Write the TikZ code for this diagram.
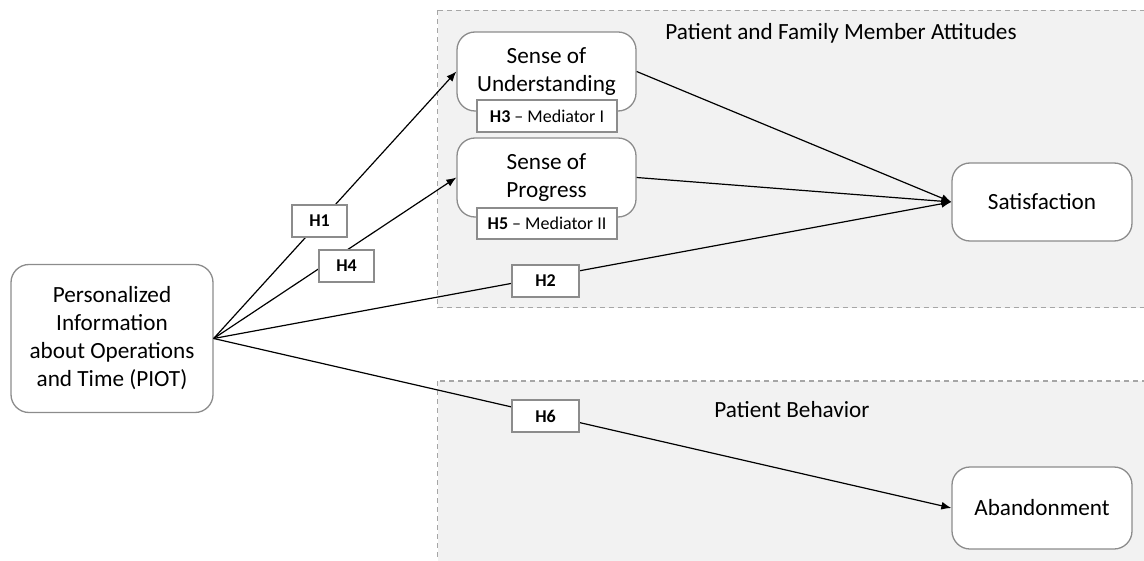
\documentclass[tikz,border=0pt]{standalone}
\usepackage{fontspec}
\setmainfont{Carlito}
\usetikzlibrary{positioning,arrows.meta}
\definecolor{boxgray}{HTML}{8C8C8C}
\definecolor{dashgray}{HTML}{A6A6A6}
\definecolor{areagray}{HTML}{F2F2F2}
\tikzset{
  construct/.style={draw=boxgray, line width=0.65pt, fill=white, rounded corners=9pt,
    align=center, inner sep=0pt, font=\fontsize{11.6}{14}\selectfont},
  hyp/.style={draw=boxgray, line width=0.6pt, fill=white, inner sep=0pt,
    font=\fontsize{9}{11}\selectfont},
  group/.style={draw=dashgray, fill=areagray, line width=0.65pt, dash pattern=on 2.5pt off 2pt},
  effect/.style={draw=black, line width=0.6pt, -{Latex[length=5pt,width=4pt]}},
  grouptitle/.style={font=\fontsize{11.6}{14}\selectfont}
}

\begin{document}
\begin{tikzpicture}[x=0.5pt, y=-0.5pt]
    \useasboundingbox (0,0) rectangle (1144,561);
    % the two areas
    \draw[group] (437.5,10.5) rectangle (1160,307.5);
    \draw[group] (437.5,381) rectangle (1160,580);
    \node[grouptitle] (attitudes) at (841,33) {Patient and Family Member Attitudes};
    \node[grouptitle] (behavior) at (792,410) {Patient Behavior};
    % constructs
    \node[construct, minimum width=101pt, minimum height=74pt] (piot) at (112,338.5)
      {Personalized\\Information\\about Operations\\and Time (PIOT)};
    \node[construct, minimum width=89.5pt, minimum height=39.5pt] (under) at (546.5,71.5)
      {Sense of\\Understanding};
    \node[construct, minimum width=89.5pt, minimum height=39.5pt] (progr) at (546.5,177.5)
      {Sense of\\Progress};
    \node[construct, minimum width=90pt, minimum height=39pt] (satis) at (1042,202)
      {Satisfaction};
    \node[construct, minimum width=90pt, minimum height=41pt] (aband) at (1042,508)
      {Abandonment};
    \coordinate (src) at (piot.east);
    % paths
    \draw[effect] (src) -- (under.west);
    \draw[effect] (src) -- (progr.west);
    \draw[effect] (src) -- (satis.west);
    \draw[effect] (src) -- (aband.west);
    \draw[effect] (under.east) -- (satis.west);
    \draw[effect] (progr.east) -- (satis.west);
    % hypotheses
    \node[hyp, minimum width=70pt, minimum height=16pt] (h3) at (547,116) {\textbf{H3} -- Mediator I};
    \node[hyp, minimum width=70pt, minimum height=15.5pt] (h5) at (547,223.5) {\textbf{H5} -- Mediator II};
    \node[hyp, minimum width=27.5pt, minimum height=16pt] (h1) at (319.5,221) {\textbf{H1}};
    \node[hyp, minimum width=27.5pt, minimum height=16pt] (h4) at (346.5,266) {\textbf{H4}};
    \node[hyp, minimum width=33.5pt, minimum height=16pt] (h2) at (545.5,281) {\textbf{H2}};
    \node[hyp, minimum width=33.5pt, minimum height=16pt] (h6) at (545.5,416) {\textbf{H6}};
\end{tikzpicture}
\end{document}
